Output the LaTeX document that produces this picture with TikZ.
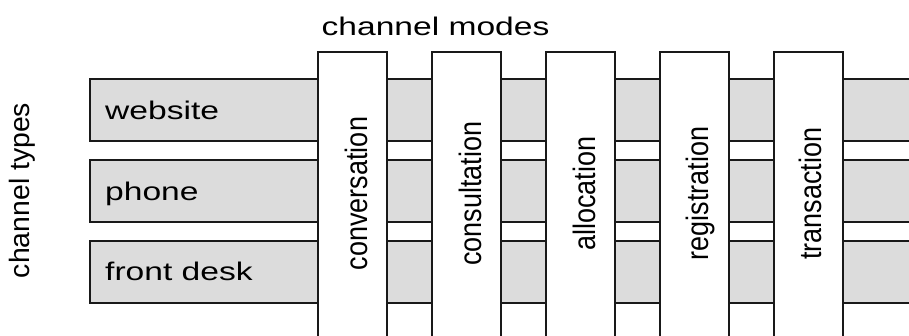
\documentclass[tikz,border=0pt]{standalone}
\usepackage{fontspec}
\setmainfont{Liberation Sans}
\definecolor{barfill}{gray}{0.863}
\definecolor{edge}{gray}{0.1}
\begin{document}
\begin{tikzpicture}[x=1pt,y=-1pt,
  bar/.style={draw=edge, fill=barfill, line width=1.1pt, minimum width=830pt, minimum height=62pt, anchor=north west, inner sep=0pt, outer sep=0pt},
  modecol/.style={draw=edge, fill=white, line width=1.1pt, minimum width=69pt, minimum height=295pt, anchor=north west, inner sep=0pt, outer sep=0pt},
  hlabel/.style={anchor=base west, inner sep=0pt, font=\fontsize{25.5}{30}\selectfont},
  vlabel/.style={rotate=90, anchor=base, inner sep=0pt, font=\fontsize{31}{34}\selectfont}]
\useasboundingbox (0,0) rectangle (909,335);
\clip (0,0) rectangle (909,335);
% channel type bars
\node[bar] (b1) at (90,79) {};
\node[bar] (b2) at (90,160) {};
\node[bar] (b3) at (90,241) {};
% channel mode columns
\node[modecol] (m1) at (318,52) {};
\node[modecol] (m2) at (432,52) {};
\node[modecol] (m3) at (546,52) {};
\node[modecol] (m4) at (660,52) {};
\node[modecol] (m5) at (774,52) {};
% bar labels
\node[hlabel] (tw) at (105,119) {\scalebox{1.317}[1]{website}};
\node[hlabel] (tp) at (105,200) {\scalebox{1.317}[1]{phone}};
\node[hlabel] (tf) at (105,280) {\scalebox{1.317}[1]{front desk}};
% column labels
\node[vlabel] (l1) at (367,193.5) {\scalebox{0.871}[1]{conversation}};
\node[vlabel] (l2) at (481,193.5) {\scalebox{0.871}[1]{consultation}};
\node[vlabel] (l3) at (595,193.5) {\scalebox{0.871}[1]{allocation}};
\node[vlabel] (l4) at (708,193.5) {\scalebox{0.871}[1]{registration}};
\node[vlabel] (l5) at (821,193.5) {\scalebox{0.871}[1]{transaction}};
% titles
\node[anchor=base, inner sep=0pt, font=\fontsize{25.5}{30}\selectfont] (tm) at (435.5,35) {\scalebox{1.317}[1]{channel modes}};
\node[rotate=90, inner sep=0pt, font=\fontsize{28}{32}\selectfont] (tt) at (22.5,190.5) {\scalebox{1.014}[1]{channel types}};
\end{tikzpicture}
\end{document}
